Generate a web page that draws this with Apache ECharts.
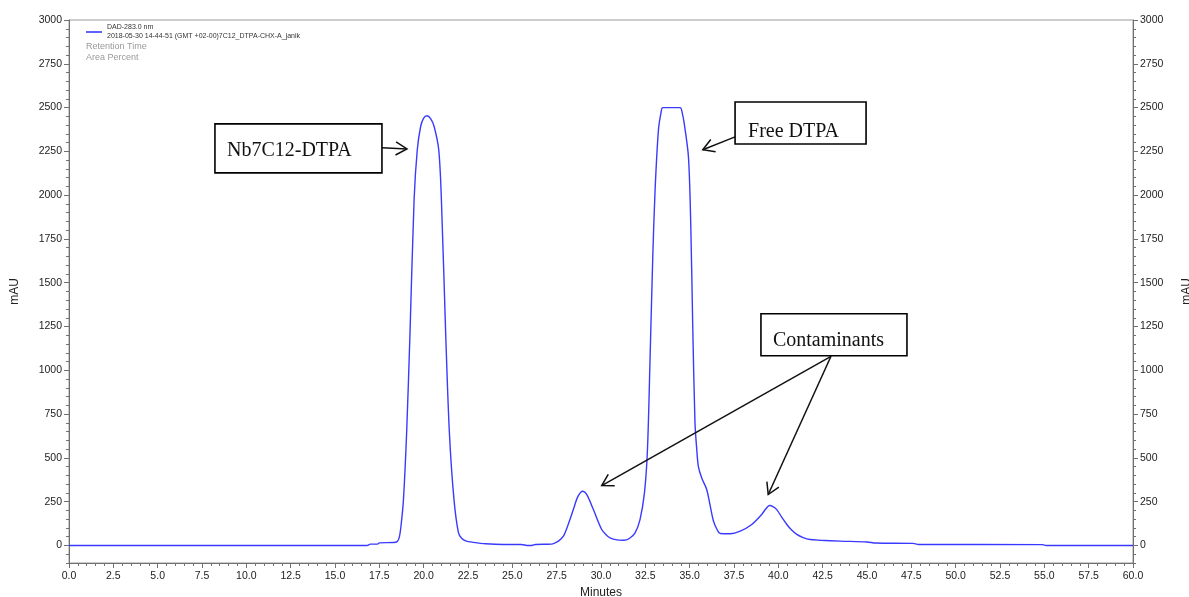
<!DOCTYPE html>
<html>
<head>
<meta charset="utf-8">
<script src="https://cdn.jsdelivr.net/npm/echarts@6/dist/echarts.min.js"></script>
<style>
  html, body { margin: 0; padding: 0; background: #fff; }
  #chart { width: 1189px; height: 597px; }
</style>
</head>
<body>
<div id="chart"></div>
<script>
// DAD trace at 283 nm: retention time (min) and absorbance (mAU)
const retentionTime = [
  0, 16.8, 17.0, 17.4, 17.5, 18.3, 18.5, 18.62, 18.72, 18.86,
  19.04, 19.23, 19.46, 19.64, 19.83, 20.0, 20.19, 20.4, 20.59, 20.85,
  21.0, 21.24, 21.45, 21.71, 21.96, 22.15, 22.4, 22.8, 23.5, 24.5,
  25.5, 25.9, 26.1, 26.3, 27.2, 27.41, 27.6, 27.88, 28.15, 28.44,
  28.7, 28.97, 29.2, 29.57, 30.04, 30.3, 30.51, 30.9, 31.26, 31.6,
  31.92, 32.2, 32.45, 32.62, 32.77, 32.92, 33.05, 33.24, 33.4, 33.48,
  34.46, 34.58, 34.69, 34.93, 35.06, 35.17, 35.3, 35.4, 35.49, 35.68,
  35.96, 36.15, 36.34, 36.55, 36.72, 37.28, 37.85, 38.5, 39.06, 39.3,
  39.5, 39.7, 39.91, 40.2, 40.48, 40.75, 41.04, 41.4, 41.79, 42.36,
  43.5, 45.0, 45.5, 47.6, 47.9, 54.9, 55.1, 60.0
];
const absorbance = [
  0, 0, 8, 8, 15, 17, 22, 45, 110, 262,
  645, 1215, 1974, 2259, 2392, 2440, 2453, 2435, 2392, 2259,
  1974, 1215, 645, 262, 74, 40, 25, 18, 10, 6,
  6, 0, 0, 6, 8, 15, 25, 53, 120, 205,
  280, 310, 290, 205, 91, 60, 44, 32, 30, 40,
  72, 148, 300, 548, 1080, 1650, 2030, 2373, 2480, 2500,
  2500, 2470, 2411, 2220, 1840, 1270, 700, 548, 452, 385,
  320, 230, 140, 90, 68, 67, 82, 120, 177, 210,
  228, 222, 205, 160, 120, 88, 63, 45, 34, 30,
  25, 20, 14, 12, 6, 5, 0, 0
];

// Axis tick values
const yTickValues = [0, 250, 500, 750, 1000, 1250, 1500, 1750, 2000, 2250, 2500, 2750, 3000];

// Callout boxes: text and top-left anchor in (min, mAU)
const calloutText = ['Nb7C12-DTPA', 'Free DTPA', 'Contaminants'];
const calloutTime = [8.23, 37.56, 39.02];
const calloutLevel = [2407, 2532, 1323];

// Arrows: tail and head in (min, mAU)
const arrowTailTime = [17.65, 37.56, 42.97, 42.97];
const arrowTailLevel = [2270, 2333, 1080, 1080];
const arrowHeadTime = [19.06, 35.74, 30.04, 39.43];
const arrowHeadLevel = [2264, 2259, 342, 291];

// Box sizes in px (width, height, text inset)
const calloutBox = [
  { w: 167, h: 49, padX: 12, midY: 27.3 },
  { w: 131, h: 42, padX: 13, midY: 29.3 },
  { w: 146, h: 42, padX: 12, midY: 27.3 }
];

const sansFont = '"Liberation Sans", Arial, sans-serif';
const serifFont = '"Liberation Serif", "Times New Roman", serif';
const axisGray = '#707070';
const labelColor = '#222';
const traceColor = '#3a3aff';
const yMin = -100, yMax = 3000;

const trace = retentionTime.map((t, i) => [t, absorbance[i]]);
const arrows = arrowTailTime.map((t, i) => [t, arrowTailLevel[i], arrowHeadTime[i], arrowHeadLevel[i]]);
const callouts = calloutTime.map((t, i) => [t, calloutLevel[i]]);

function yAxesFor(side) {
  return [
    { // minor ticks every 50 mAU
      type: 'value', position: side, min: yMin, max: yMax, interval: 50,
      axisLine: { show: true, onZero: false, lineStyle: { color: axisGray, width: 1 } },
      axisTick: { show: true, length: 3, lineStyle: { color: axisGray } },
      axisLabel: { show: false },
      splitLine: { show: false }
    },
    { // major ticks and labels
      type: 'value', position: side, min: yMin, max: yMax,
      name: 'mAU', nameLocation: 'middle', nameRotate: 90, nameGap: 48,
      nameTextStyle: { fontFamily: sansFont, fontSize: 12, color: labelColor },
      axisLine: { show: false, onZero: false },
      axisTick: { show: true, length: 5, customValues: yTickValues, lineStyle: { color: axisGray } },
      axisLabel: { customValues: yTickValues, formatter: v => String(v), margin: 7,
                   fontFamily: sansFont, fontSize: 10.5, color: labelColor },
      splitLine: { show: false }
    }
  ];
}

const chart = echarts.init(document.getElementById('chart'), null, { renderer: 'canvas' });

chart.setOption({
  animation: false,
  backgroundColor: '#fff',
  grid: {
    left: 69, right: 56, top: 20, bottom: 34,
    containLabel: false, outerBoundsMode: 'none',
    show: true, borderColor: '#9a9a9a', borderWidth: 1, backgroundColor: 'transparent'
  },
  legend: {
    data: ['DAD-283.0 nm'],
    left: 86, top: 23, padding: 0,
    icon: 'rect', itemWidth: 16, itemHeight: 1.6,
    selectedMode: false,
    formatter: name => name + '\n2018-05-30 14-44-51 (GMT +02-00)7C12_DTPA-CHX-A_janik',
    textStyle: { fontFamily: sansFont, fontSize: 7, color: '#333', lineHeight: 9 }
  },
  graphic: [{
    type: 'text', left: 86, top: 41,
    style: { text: 'Retention Time\nArea Percent', font: '9px ' + sansFont, fill: '#999', lineHeight: 11 }
  }],
  xAxis: [{
    type: 'value', position: 'bottom', min: 0, max: 60, interval: 2.5,
    name: 'Minutes', nameLocation: 'middle', nameGap: 22,
    nameTextStyle: { fontFamily: sansFont, fontSize: 12, color: labelColor },
    axisLine: { onZero: false, lineStyle: { color: axisGray, width: 1 } },
    axisTick: { length: 5, lineStyle: { color: axisGray } },
    minorTick: { show: true, splitNumber: 5, length: 3, lineStyle: { color: axisGray } },
    axisLabel: { formatter: v => v.toFixed(1), margin: 8, fontFamily: sansFont, fontSize: 10.5, color: labelColor },
    splitLine: { show: false }
  }],
  yAxis: yAxesFor('left').concat(yAxesFor('right')),
  series: [
    {
      name: 'DAD-283.0 nm', type: 'line',
      xAxisIndex: 0, yAxisIndex: 0,
      data: trace,
      symbol: 'none', showSymbol: false,
      smooth: 0.3,
      lineStyle: { color: traceColor, width: 1.4 },
      itemStyle: { color: traceColor },
      z: 3
    },
    {
      name: 'arrows', type: 'custom',
      xAxisIndex: 0, yAxisIndex: 0,
      data: arrows, encode: { x: [0, 2], y: [1, 3] },
      silent: true, z: 5,
      renderItem: (params, api) => {
        const a = api.coord([api.value(0), api.value(1)]);
        const b = api.coord([api.value(2), api.value(3)]);
        const ang = Math.atan2(b[1] - a[1], b[0] - a[0]);
        const len = 13, spread = 0.53;
        const h1 = [b[0] - len * Math.cos(ang - spread), b[1] - len * Math.sin(ang - spread)];
        const h2 = [b[0] - len * Math.cos(ang + spread), b[1] - len * Math.sin(ang + spread)];
        return {
          type: 'group',
          children: [
            { type: 'line', shape: { x1: a[0], y1: a[1], x2: b[0], y2: b[1] },
              style: { stroke: '#111', lineWidth: 1.5 } },
            { type: 'polyline', shape: { points: [h1, b, h2] },
              style: { stroke: '#111', lineWidth: 1.5, fill: null } }
          ]
        };
      }
    },
    {
      name: 'callouts', type: 'custom',
      xAxisIndex: 0, yAxisIndex: 0,
      data: callouts, encode: { x: 0, y: 1 },
      silent: true, z: 6,
      renderItem: (params, api) => {
        const i = params.dataIndex;
        const p = api.coord([api.value(0), api.value(1)]);
        const b = calloutBox[i];
        return {
          type: 'group',
          children: [
            { type: 'rect', shape: { x: p[0], y: p[1], width: b.w, height: b.h },
              style: { fill: '#fff', stroke: '#000', lineWidth: 1.6 } },
            { type: 'text', x: p[0] + b.padX, y: p[1] + b.midY,
              style: { text: calloutText[i], font: '20px ' + serifFont, fill: '#111',
                       align: 'left', verticalAlign: 'middle' } }
          ]
        };
      }
    }
  ]
});
</script>
</body>
</html>
